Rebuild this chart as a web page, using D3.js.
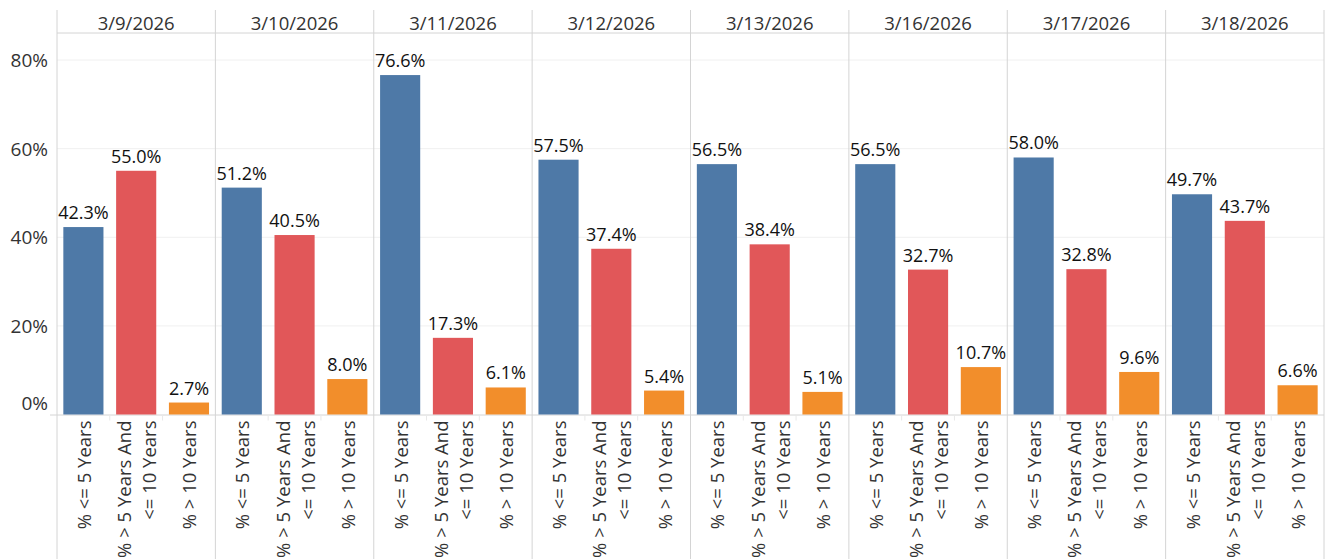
<!DOCTYPE html>
<html>
<head>
<meta charset="utf-8">
<script src="https://cdn.jsdelivr.net/npm/d3@7"></script>
<style>
  body { margin: 0; background: #fff; }
  text { font-family: "Open Sans", sans-serif; }
</style>
</head>
<body>
<script>
// data
const dates = ["3/9/2026", "3/10/2026", "3/11/2026", "3/12/2026", "3/13/2026", "3/16/2026", "3/17/2026", "3/18/2026"];
const categories = ["% <= 5 Years", "% > 5 Years And\n<= 10 Years", "% > 10 Years"];
const le5 = [42.3, 51.2, 76.6, 57.5, 56.5, 56.5, 58.0, 49.7];
const gt5le10 = [55.0, 40.5, 17.3, 37.4, 38.4, 32.7, 32.8, 43.7];
const gt10 = [2.7, 8.0, 6.1, 5.4, 5.1, 10.7, 9.6, 6.6];
const yTicks = [0, 20, 40, 60, 80];
const colors = ["#4e79a7", "#e15759", "#f28e2b"];

(function () {
const width = 1325;
const height = 559;

const series = [le5, gt5le10, gt10];
const data = [];
dates.forEach((d, i) => {
  categories.forEach((c, j) => {
    data.push({ date: d, cat: c, value: series[j][i], ci: j });
  });
});

const left = 57, right = 1324;
const headerY = 33, base = 414.5;

const svg = d3.select("body").append("svg")
  .attr("width", width)
  .attr("height", height);

const xOuter = d3.scaleBand().domain(dates).range([left, right]);
const xInner = d3.scaleBand().domain(categories).range([0, xOuter.bandwidth()])
  .paddingInner(0.24).paddingOuter(0.12);
const y = d3.scaleLinear().domain([0, 80]).range([base, 60]);

// gridlines
svg.append("g")
  .selectAll("line")
  .data(yTicks.filter(t => t > 0))
  .join("line")
  .attr("x1", left).attr("x2", right)
  .attr("y1", d => y(d)).attr("y2", d => y(d))
  .attr("stroke", "#f0f0f0");

// y tick labels
svg.append("g")
  .selectAll("text")
  .data(yTicks)
  .join("text")
  .attr("x", 48)
  .attr("y", d => d === 0 ? y(d) - 12 : y(d))
  .attr("text-anchor", "end")
  .attr("dominant-baseline", "central")
  .attr("font-size", "19px")
  .attr("fill", "#333")
  .text(d => d + "%");

// panel borders
svg.append("line")
  .attr("x1", left).attr("x2", right)
  .attr("y1", headerY).attr("y2", headerY)
  .attr("stroke", "#d4d4d4");
svg.append("line")
  .attr("x1", 50).attr("x2", right)
  .attr("y1", base + 0.5).attr("y2", base + 0.5)
  .attr("stroke", "#d4d4d4");
svg.append("g")
  .selectAll("line")
  .data(dates.concat(["end"]))
  .join("line")
  .attr("x1", d => d === "end" ? right : xOuter(d))
  .attr("x2", d => d === "end" ? right : xOuter(d))
  .attr("y1", 10).attr("y2", height)
  .attr("stroke", "#d4d4d4");

// headers
svg.append("g")
  .selectAll("text")
  .data(dates)
  .join("text")
  .attr("x", d => xOuter(d) + xOuter.bandwidth() / 2)
  .attr("y", 22)
  .attr("text-anchor", "middle")
  .attr("dominant-baseline", "central")
  .attr("font-size", "18.5px")
  .attr("fill", "#333")
  .text(d => d);

const panels = svg.append("g")
  .selectAll("g")
  .data(dates)
  .join("g")
  .attr("transform", d => `translate(${xOuter(d)},0)`);

// small ticks between categories
panels.selectAll(".sep")
  .data(categories.slice(1))
  .join("line")
  .attr("class", "sep")
  .attr("x1", d => xInner(d) - xInner.step() * xInner.paddingInner() / 2)
  .attr("x2", d => xInner(d) - xInner.step() * xInner.paddingInner() / 2)
  .attr("y1", base + 1).attr("y2", base + 6)
  .attr("stroke", "#e8e8e8");

// bars
panels.selectAll("rect")
  .data(d => data.filter(r => r.date === d))
  .join("rect")
  .attr("x", d => xInner(d.cat))
  .attr("y", d => y(d.value))
  .attr("width", xInner.bandwidth())
  .attr("height", d => base - y(d.value))
  .attr("fill", d => colors[d.ci]);

// value labels
panels.selectAll(".val")
  .data(d => data.filter(r => r.date === d))
  .join("text")
  .attr("class", "val")
  .attr("x", d => xInner(d.cat) + xInner.bandwidth() / 2)
  .attr("y", d => y(d.value) - 8)
  .attr("text-anchor", "middle")
  .attr("font-size", "18px")
  .attr("font-weight", 500)
  .attr("fill", "#111")
  .text(d => d.value.toFixed(1) + "%");

// category labels (rotated)
panels.each(function () {
  const g = d3.select(this);
  categories.forEach(c => {
    const lines = c.split("\n");
    const cx = xInner(c) + xInner.bandwidth() / 2;
    const step = 25;
    lines.forEach((ln, k) => {
      const lx = cx + (k - (lines.length - 1) / 2) * step;
      g.append("text")
        .attr("transform", `translate(${lx},${base + 6}) rotate(-90)`)
        .attr("text-anchor", "end")
        .attr("dominant-baseline", "central")
        .attr("font-size", "18.5px")
        .attr("fill", "#333")
        .text(ln);
    });
  });
});
}());
</script>
</body>
</html>
